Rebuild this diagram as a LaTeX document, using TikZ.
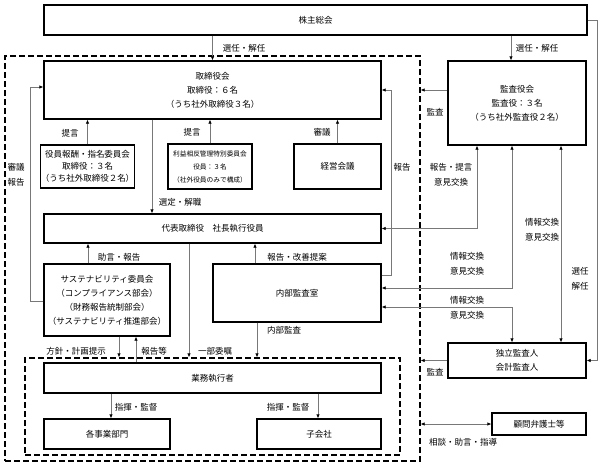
\documentclass[tikz,border=0pt]{standalone}
\usepackage{fontspec}
\setmainfont{Noto Sans CJK JP}
\usetikzlibrary{arrows.meta, positioning, calc}
\definecolor{LineGray}{RGB}{120,120,120}

\begin{document}
\begin{tikzpicture}[x=1pt,y=-1pt,
    box/.style={draw,line width=1.2pt,inner sep=0pt,align=center,font=\fontsize{8.5pt}{14pt}\selectfont},
    dashbox/.style={draw,line width=1.2pt,dash pattern=on 6pt off 3pt,inner sep=0pt},
    conn/.style={draw=LineGray,line width=0.7pt,-{Latex[length=4pt,width=3.5pt,color=black]}},
    twoway/.style={conn,{Latex[length=4pt,width=3.5pt,color=black]}-{Latex[length=4pt,width=3.5pt,color=black]}},
    lbl/.style={inner sep=0pt,align=center,font=\fontsize{8.5pt}{15pt}\selectfont}]
        \useasboundingbox (0,0) rectangle (602,466);
        % dashed frames
        \node[dashbox,minimum width=415,minimum height=405] (outer) at (212.5,258.5) {};
        \node[dashbox,minimum width=375,minimum height=97] (inner) at (212.5,406.5) {};
        % boxes
        \node[box,minimum width=543,minimum height=30] (kabu) at (315.5,20) {株主総会};
        \node[box,minimum width=337,minimum height=58] (board) at (212.5,90) {取締役会\\取締役：６名\\（うち社外取締役３名）};
        \node[box,minimum width=138,minimum height=84] (kansa) at (517,103) {監査役会\\監査役：３名\\（うち社外監査役２名）};
        \node[box,minimum width=85,minimum height=43,font=\fontsize{8.5pt}{12pt}\selectfont] (yakuin) at (87.5,166.5) {役員報酬・指名委員会\\取締役：３名\\（うち社外取締役２名）};
        \node[box,minimum width=84,minimum height=45,font=\fontsize{6.7pt}{13pt}\selectfont] (rieki) at (210,166.5) {利益相反管理特別委員会\\役員：３名\\（社外役員のみで構成）};
        \node[box,minimum width=87,minimum height=45] (keiei) at (337.5,166.5) {経営会議};
        \node[box,minimum width=337,minimum height=29] (ceo) at (212.5,228.5) {代表取締役　社長執行役員};
        \node[box,minimum width=126,minimum height=72] (sus) at (107,300) {サステナビリティ委員会\\（コンプライアンス部会）\\（財務報告統制部会）\\（サステナビリティ推進部会）};
        \node[box,minimum width=168,minimum height=58] (naibu) at (297,293) {内部監査室};
        \node[box,minimum width=337,minimum height=30] (gyomu) at (212.5,378) {業務執行者};
        \node[box,minimum width=126,minimum height=30] (jigyo) at (107,434) {各事業部門};
        \node[box,minimum width=124,minimum height=30] (kogaisha) at (319,434) {子会社};
        \node[box,minimum width=138,minimum height=35] (dokuritsu) at (517,360.5) {独立監査人\\会計監査人};
        \node[box,minimum width=94,minimum height=22] (komon) at (539,424) {顧問弁護士等};
        % connectors
        \draw[conn] (kabu.south -| board.north) -- (board.north);
        \draw[conn] (511,0 |- kabu.south) -- (511,0 |- kansa.north);
        \draw[conn] (kansa.west |- 0,90) -- (outer.east |- 0,90);
        \draw[conn] (sus.west |- 0,301) -| (30,87) -- (board.west |- 0,87);
        \draw[conn] (yakuin.north) -- (yakuin.north |- board.south);
        \draw[conn] (rieki.north) -- (rieki.north |- board.south);
        \draw[conn] (keiei.north) -- (keiei.north |- board.south);
        \draw[conn] (152,0 |- board.south) -- (152,0 |- ceo.north);
        \draw[conn] (88,0 |- sus.north) -- (88,0 |- ceo.south);
        \draw[conn] (189,0 |- ceo.south) -- (189,0 |- inner.north);
        \draw[conn] (255,0 |- naibu.north) -- (255,0 |- ceo.south);
        \draw[conn] (257,0 |- naibu.south) -- (257,0 |- inner.north);
        \draw[conn] (naibu.east |- 0,275) -| (391,90) -- (board.east |- 0,90);
        \draw[twoway] (477,0 |- kansa.south) |- (ceo.east);
        \draw[twoway] (512,0 |- kansa.south) |- (naibu.east |- 0,288);
        \draw[twoway] (561,0 |- kansa.south) -- (561,0 |- dokuritsu.north);
        \draw[twoway] (naibu.east |- 0,307) -| (512,0 |- dokuritsu.north);
        \draw[conn] (kabu.east) -| (597,0 |- dokuritsu.east) -- (dokuritsu.east);
        \draw[conn] (dokuritsu.west) -- (outer.east |- dokuritsu.west);
        \draw[twoway] (komon.west) -- (outer.east |- komon.west);
        \draw[conn] (119,0 |- sus.south) -- (119,0 |- inner.north);
        \draw[conn] (136,0 |- gyomu.north) -- (136,0 |- sus.south);
        \draw[conn] (111,0 |- gyomu.south) -- (111,0 |- jigyo.north);
        \draw[conn] (318,0 |- gyomu.south) -- (318,0 |- kogaisha.north);
        % labels
        \node[lbl] (l1) at (244,48) {選任・解任};
        \node[lbl] (l2) at (537,48) {選任・解任};
        \node[lbl] (l3) at (435,112) {監査};
        \node[lbl] (l4) at (70,133) {提言};
        \node[lbl] (l5) at (192,132) {提言};
        \node[lbl] (l6) at (322,132) {審議};
        \node[lbl] (l7) at (16,174.5) {審議\\報告};
        \node[lbl] (l8) at (180,202) {選定・解職};
        \node[lbl] (l9) at (402,167) {報告};
        \node[lbl] (l10) at (451,174.5) {報告・提言\\意見交換};
        \node[lbl] (l11) at (542,229.5) {情報交換\\意見交換};
        \node[lbl] (l12) at (467,264) {情報交換\\意見交換};
        \node[lbl] (l13) at (467,307.5) {情報交換\\意見交換};
        \node[lbl] (l14) at (580,279) {選任\\解任};
        \node[lbl] (l15) at (435,372) {監査};
        \node[lbl] (l16) at (463,442) {相談・助言・指導};
        \node[lbl] (l17) at (119,257) {助言・報告};
        \node[lbl] (l18) at (297,257) {報告・改善提案};
        \node[lbl] (l19) at (76,351) {方針・計画提示};
        \node[lbl] (l20) at (154,351) {報告等};
        \node[lbl] (l21) at (215,351) {一部委嘱};
        \node[lbl] (l22) at (284,330) {内部監査};
        \node[lbl] (l23) at (136,407) {指揮・監督};
        \node[lbl] (l24) at (288,407) {指揮・監督};
\end{tikzpicture}
\end{document}
